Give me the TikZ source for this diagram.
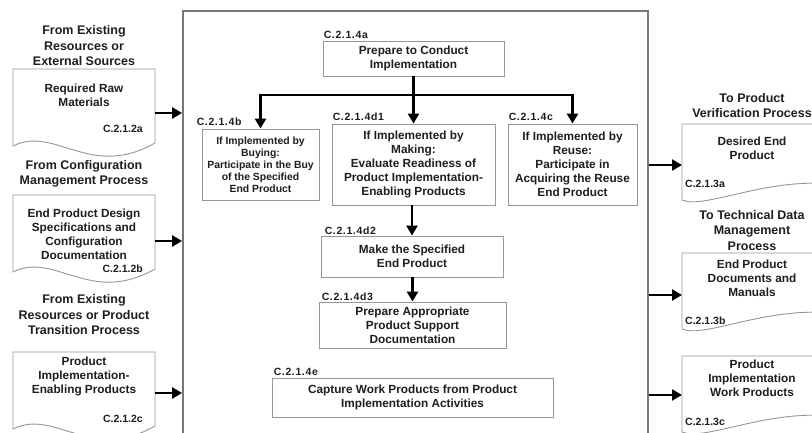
\documentclass[tikz,border=0pt]{standalone}
\usepackage{fontspec}
\setmainfont{Liberation Sans}
\usetikzlibrary{arrows.meta}
\definecolor{boxgray}{RGB}{150,150,150}
\definecolor{maingray}{RGB}{120,120,120}
\definecolor{txt}{RGB}{30,30,30}
\newcommand\mytitlefont{\bfseries\fontsize{12.5}{15.5}\selectfont}
\newcommand\mybodyfont{\bfseries\fontsize{11.8}{14}\selectfont}
\newcommand\mysmallbody{\bfseries\fontsize{10.4}{12}\selectfont}
\newcommand\mycodefont{\bfseries\fontsize{10.5}{11}\selectfont\addfontfeatures{LetterSpace=6}}
\newcommand\mydoccode{\bfseries\fontsize{10.5}{11}\selectfont}
\begin{document}
\begin{tikzpicture}[x=1pt,y=-1pt,
  titletext/.style={align=center,font=\mytitlefont,text=txt,inner sep=0pt},
  doctext/.style={align=center,font=\mybodyfont,text=txt,inner sep=0pt},
  codeA/.style={font=\mydoccode,text=txt,inner sep=0pt},
  codeB/.style={font=\mycodefont,text=txt,inner sep=0pt,anchor=base west},
  procbox/.style={draw=boxgray,line width=0.9pt,fill=white,inner sep=0pt,align=center,font=\mybodyfont,text=txt},
  mainbox/.style={draw=maingray,line width=1.8pt,inner sep=0pt,minimum width=465pt,minimum height=432pt},
  docline/.style={draw=boxgray,line width=0.9pt,fill=white},
  arr/.style={line width=2.6pt,-{Triangle[length=10pt,width=11pt]}},
  ldoc/.pic={\path[docline] (0,77) -- (0,0) -- (142,0) -- (142,74) .. controls (77,111) and (42,56) .. (0,77) -- cycle;},
  rdoc/.pic={\path[docline] (0,76) -- (0,0) -- (160,0) -- (160,61) -- (158,61) .. controls (88,51) and (23,86) .. (0,76) -- cycle;}
]
\useasboundingbox (0,0) rectangle (812,433);
\clip (0,0) rectangle (812,433);
\fill[white] (0,0) rectangle (812,433);

% main process box
\node[mainbox] (main) at (415.5,227) {};

% left titles
\node[titletext] (t1) at (84,46) {From Existing\\Resources or\\External Sources};
\node[titletext] (t2) at (84,174) {From Configuration\\Management Process};
\node[titletext] (t3) at (84,315) {From Existing\\Resources or Product\\Transition Process};
% right titles
\node[titletext] (t4) at (752,105.5) {To Product\\Verification Process};
\node[titletext] (t5) at (752,230.5) {To Technical Data\\Management\\Process};

% left documents
\pic at (13,69) {ldoc};
\pic at (13,195) {ldoc};
\pic at (13,352) {ldoc};
\node[doctext] (d1t) at (84,95.5) {Required Raw\\Materials};
\node[codeA,anchor=east] (d1c) at (143,129) {C.2.1.2a};
\node[doctext] (d2t) at (84,234.5) {End Product Design\\Specifications and\\Configuration\\Documentation};
\node[codeA,anchor=east] (d2c) at (143,269) {C.2.1.2b};
\node[doctext] (d3t) at (84,376.5) {Product\\Implementation-\\Enabling Products};
\node[codeA,anchor=east] (d3c) at (143,419) {C.2.1.2c};

% right documents
\pic at (682,124) {rdoc};
\pic at (682,253) {rdoc};
\pic at (682,356) {rdoc};
\node[doctext] (o1t) at (752,148) {Desired End\\Product};
\node[codeA,anchor=west] (o1c) at (685,184) {C.2.1.3a};
\node[doctext] (o2t) at (752,278) {End Product\\Documents and\\Manuals};
\node[codeA,anchor=west] (o2c) at (685,321) {C.2.1.3b};
\node[doctext] (o3t) at (752,378.5) {Product\\Implementation\\Work Products};
\node[codeA,anchor=west] (o3c) at (685,422) {C.2.1.3c};

% process boxes
\node[procbox,minimum width=181pt,minimum height=35pt] (a) at (413.5,58.5) {Prepare to Conduct\\Implementation};
\node[procbox,minimum width=117pt,minimum height=71pt,font=\mysmallbody] (b) at (260.5,164.5) {If Implemented by\\Buying:\\Participate in the Buy\\of the Specified\\End Product};
\node[procbox,minimum width=163pt,minimum height=81pt] (d1) at (413.5,164.5) {If Implemented by\\Making:\\Evaluate Readiness of\\Product Implementation-\\Enabling Products};
\node[procbox,minimum width=129pt,minimum height=81pt] (c) at (572.5,164.5) {If Implemented by\\Reuse:\\Participate in\\Acquiring the Reuse\\End Product};
\node[procbox,minimum width=182pt,minimum height=41pt] (d2) at (412,256.5) {Make the Specified\\End Product};
\node[procbox,minimum width=187pt,minimum height=46pt] (d3) at (412.5,325) {Prepare Appropriate\\Product Support\\Documentation};
\node[procbox,minimum width=281pt,minimum height=39pt] (e) at (412.5,397.5) {Capture Work Products from Product\\Implementation Activities};

% codes
\node[codeB] (la) at ([xshift=1pt,yshift=2.5pt]a.north west) {C.2.1.4a};
\node[codeB] (lb) at ([xshift=-5pt,yshift=3.5pt]b.north west) {C.2.1.4b};
\node[codeB] (ld1) at ([xshift=1pt,yshift=3.5pt]d1.north west) {C.2.1.4d1};
\node[codeB] (lc) at ([xshift=1pt,yshift=3.5pt]c.north west) {C.2.1.4c};
\node[codeB] (ld2) at ([xshift=4pt,yshift=1.5pt]d2.north west) {C.2.1.4d2};
\node[codeB] (ld3) at ([xshift=3pt,yshift=1.5pt]d3.north west) {C.2.1.4d3};
\node[codeB] (le) at ([xshift=2pt,yshift=2.5pt]e.north west) {C.2.1.4e};

% internal flow
\coordinate (j) at (413.5,95);
\draw[arr] (a.south) -- (d1.north);
\draw[arr] (j) -| (b.north);
\draw[arr] (j) -| (c.north);
\draw[arr] (d1.south -| d2.north) -- (d2.north);
\draw[arr] (d2.south -| d3.north) -- (d3.north);

% inputs
\coordinate (i1) at (155,113);
\coordinate (i2) at (155,241);
\coordinate (i3) at (155,393);
\draw[arr] (i1) -- (i1 -| main.west);
\draw[arr] (i2) -- (i2 -| main.west);
\draw[arr] (i3) -- (i3 -| main.west);

% outputs
\coordinate (r1) at (682,165);
\coordinate (r2) at (682,295);
\coordinate (r3) at (682,395);
\draw[arr] (r1 -| main.east) -- (r1);
\draw[arr] (r2 -| main.east) -- (r2);
\draw[arr] (r3 -| main.east) -- (r3);
\end{tikzpicture}
\end{document}
